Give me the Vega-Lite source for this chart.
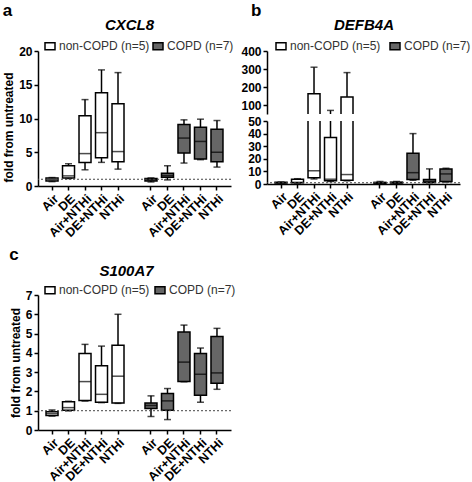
{
 "$schema": "https://vega.github.io/schema/vega-lite/v6.json",
 "padding": {"left": 2, "top": 2, "right": 0, "bottom": 10},
 "background": "white",
 "config": {
  "font": "Liberation Sans",
  "view": {"stroke": null},
  "axis": {"domainColor": "black", "domainWidth": 1.5, "tickColor": "black", "tickWidth": 1.5, "tickSize": 4, "labelFont": "Liberation Sans", "labelFontWeight": "bold", "labelFontSize": 12, "labelColor": "black", "labelPadding": 2, "labelOverlap": false, "titleFont": "Liberation Sans", "titleFontWeight": "bold", "titleFontSize": 12, "titleColor": "black", "grid": false},
  "legend": {"padding": 0},
  "title": {"font": "Liberation Sans", "fontSize": 17, "fontWeight": "bold", "color": "black", "anchor": "start", "frame": "bounds", "offset": -3}
 },
 "datasets": {
  "a": [
   {"key": "n Air", "group": "non-COPD (n=5)", "min": 0.65, "q1": 0.75, "med": 0.95, "q3": 1.2, "max": 1.25},
   {"key": "n DE", "group": "non-COPD (n=5)", "min": 1.1, "q1": 1.2, "med": 1.5, "q3": 3.0, "max": 3.3},
   {"key": "n Air+NTHi", "group": "non-COPD (n=5)", "min": 2.4, "q1": 3.5, "med": 4.8, "q3": 10.4, "max": 12.8},
   {"key": "n DE+NTHi", "group": "non-COPD (n=5)", "min": 3.5, "q1": 4.2, "med": 7.9, "q3": 13.8, "max": 17.2},
   {"key": "n NTHi", "group": "non-COPD (n=5)", "min": 2.5, "q1": 3.6, "med": 5.1, "q3": 12.2, "max": 16.8},
   {"key": "c Air", "group": "COPD (n=7)", "min": 0.6, "q1": 0.75, "med": 0.95, "q3": 1.1, "max": 1.2},
   {"key": "c DE", "group": "COPD (n=7)", "min": 0.9, "q1": 1.3, "med": 1.55, "q3": 1.9, "max": 3.0},
   {"key": "c Air+NTHi", "group": "COPD (n=7)", "min": 3.4, "q1": 4.9, "med": 7.1, "q3": 9.1, "max": 9.8},
   {"key": "c DE+NTHi", "group": "COPD (n=7)", "min": 3.9, "q1": 4.0, "med": 6.6, "q3": 8.7, "max": 9.9},
   {"key": "c NTHi", "group": "COPD (n=7)", "min": 2.8, "q1": 3.6, "med": 5.0, "q3": 8.4, "max": 9.7}
  ],
  "b": [
   {"key": "n Air", "group": "non-COPD (n=5)", "min": 0.5, "q1": 0.7, "med": 1.0, "q3": 1.3, "max": 1.6},
   {"key": "n DE", "group": "non-COPD (n=5)", "min": 0.8, "q1": 1.0, "med": 1.3, "q3": 3.8, "max": 4.2},
   {"key": "n Air+NTHi", "group": "non-COPD (n=5)", "min": 4, "q1": 5, "med": 10.5, "q3": 163, "max": 310},
   {"key": "n DE+NTHi", "group": "non-COPD (n=5)", "min": 2.0, "q1": 2.5, "med": 3.8, "q3": 37, "max": 70},
   {"key": "n NTHi", "group": "non-COPD (n=5)", "min": 2.5, "q1": 3.0, "med": 7.5, "q3": 145, "max": 280},
   {"key": "c Air", "group": "COPD (n=7)", "min": 0.3, "q1": 0.6, "med": 1.0, "q3": 1.3, "max": 2.0},
   {"key": "c DE", "group": "COPD (n=7)", "min": 0.5, "q1": 0.8, "med": 1.0, "q3": 1.5, "max": 2.0},
   {"key": "c Air+NTHi", "group": "COPD (n=7)", "min": 3, "q1": 3.5, "med": 9, "q3": 24.5, "max": 40},
   {"key": "c DE+NTHi", "group": "COPD (n=7)", "min": 1.0, "q1": 1.2, "med": 2.0, "q3": 3.5, "max": 12},
   {"key": "c NTHi", "group": "COPD (n=7)", "min": 1.5, "q1": 2.0, "med": 8.0, "q3": 12, "max": 12.5}
  ],
  "c": [
   {"key": "n Air", "group": "non-COPD (n=5)", "min": 0.72, "q1": 0.75, "med": 0.85, "q3": 0.95, "max": 1.04},
   {"key": "n DE", "group": "non-COPD (n=5)", "min": 0.99, "q1": 1.02, "med": 1.16, "q3": 1.46, "max": 1.49},
   {"key": "n Air+NTHi", "group": "non-COPD (n=5)", "min": 1.5, "q1": 1.53, "med": 2.51, "q3": 3.97, "max": 4.44},
   {"key": "n DE+NTHi", "group": "non-COPD (n=5)", "min": 1.42, "q1": 1.44, "med": 1.85, "q3": 3.33, "max": 4.35},
   {"key": "n NTHi", "group": "non-COPD (n=5)", "min": 1.38, "q1": 1.4, "med": 2.79, "q3": 4.4, "max": 6.0},
   {"key": "c Air", "group": "COPD (n=7)", "min": 0.7, "q1": 1.12, "med": 1.27, "q3": 1.4, "max": 1.77},
   {"key": "c DE", "group": "COPD (n=7)", "min": 0.54, "q1": 1.02, "med": 1.51, "q3": 1.89, "max": 2.15},
   {"key": "c Air+NTHi", "group": "COPD (n=7)", "min": 2.5, "q1": 2.51, "med": 3.52, "q3": 5.08, "max": 5.44},
   {"key": "c DE+NTHi", "group": "COPD (n=7)", "min": 1.44, "q1": 1.8, "med": 2.89, "q3": 3.97, "max": 4.25},
   {"key": "c NTHi", "group": "COPD (n=7)", "min": 2.11, "q1": 2.43, "med": 2.96, "q3": 4.85, "max": 5.27}
  ],
  "ref": [{"ref": 1}]
 },
 "resolve": {"scale": {"x": "independent", "y": "independent", "fill": "independent"}, "legend": {"fill": "independent"}},
 "spacing": 7,
 "vconcat": [
  {
   "spacing": 6,
   "resolve": {"scale": {"x": "independent", "y": "independent", "fill": "independent"}, "legend": {"fill": "independent"}},
   "hconcat": [
    {
     "data": {"name": "a"},
     "width": 193, "height": 135,
     "title": {"text": "a"},
     "resolve": {"axis": {"x": "independent"}},
     "layer": [
      {"mark": {"type": "rule", "color": "black", "strokeWidth": 1.5},
       "encoding": {
        "x": {"field": "key", "type": "nominal", "scale": {"domain": ["n Air","n DE","n Air+NTHi","n DE+NTHi","n NTHi","gap","c Air","c DE","c Air+NTHi","c DE+NTHi","c NTHi"], "paddingOuter": 0.35, "paddingInner": 0}, "axis": {"values": ["n Air","n DE","n Air+NTHi","n DE+NTHi","n NTHi","c Air","c DE","c Air+NTHi","c DE+NTHi","c NTHi"], "labelExpr": "substring(datum.value, 2)", "labelAngle": -45, "labelFontSize": 12.5, "title": null}},
        "y": {"field": "min", "type": "quantitative", "title": "fold from untreated", "scale": {"domain": [0, 20], "nice": false}, "axis": {"values": [0, 5, 10, 15, 20], "titlePadding": 3, "titleY": 76}},
        "y2": {"field": "max"}}},
      {"mark": {"type": "bar", "size": 12, "stroke": "black", "strokeWidth": 1.5},
       "encoding": {
        "x": {"field": "key", "type": "nominal", "axis": {"orient": "top", "title": "CXCL8", "labels": false, "ticks": false, "domain": false, "titleFontSize": 15, "titleFontStyle": "italic", "titlePadding": 19, "titleX": 91}},
        "y": {"field": "q1", "type": "quantitative", "title": "fold from untreated", "scale": {"domain": [0, 20], "nice": false}, "axis": {"values": [0, 5, 10, 15, 20], "titlePadding": 3, "titleY": 76}},
        "y2": {"field": "q3"},
        "fill": {"field": "group", "type": "nominal", "scale": {"domain": ["non-COPD (n=5)", "COPD (n=7)"], "range": ["#ffffff", "#666666"]},
         "legend": {"title": null, "orient": "none", "legendX": 6, "legendY": -11, "direction": "horizontal", "symbolType": "M-1,-0.7H1V0.7H-1Z", "symbolSize": 100, "symbolStrokeColor": "black", "symbolStrokeWidth": 1.5, "labelFontSize": 12, "labelColor": "#333333", "labelFont": "Liberation Sans", "columnPadding": 0, "labelOffset": 3}}}},
      {"mark": {"type": "tick", "size": 12, "thickness": 1.5, "color": "black"},
       "encoding": {"x": {"field": "key", "type": "nominal", "axis": null}, "y": {"field": "med", "type": "quantitative", "title": "fold from untreated", "scale": {"domain": [0, 20], "nice": false}, "axis": {"values": [0, 5, 10, 15, 20], "titlePadding": 3, "titleY": 76}}}},
      {"mark": {"type": "tick", "size": 7, "thickness": 1.5, "color": "black"},
       "encoding": {"x": {"field": "key", "type": "nominal", "axis": null}, "y": {"field": "max", "type": "quantitative", "title": "fold from untreated", "scale": {"domain": [0, 20], "nice": false}, "axis": {"values": [0, 5, 10, 15, 20], "titlePadding": 3, "titleY": 76}}}},
      {"mark": {"type": "tick", "size": 7, "thickness": 1.5, "color": "black"},
       "encoding": {"x": {"field": "key", "type": "nominal", "axis": null}, "y": {"field": "min", "type": "quantitative", "title": "fold from untreated", "scale": {"domain": [0, 20], "nice": false}, "axis": {"values": [0, 5, 10, 15, 20], "titlePadding": 3, "titleY": 76}}}},
      {"data": {"name": "ref"}, "mark": {"type": "rule", "color": "#444444", "strokeWidth": 1, "strokeDash": [2, 2]},
       "encoding": {"y": {"field": "ref", "type": "quantitative", "title": "fold from untreated", "scale": {"domain": [0, 20], "nice": false}, "axis": {"values": [0, 5, 10, 15, 20], "titlePadding": 3, "titleY": 76}}}}
     ]
    },
    {
     "title": {"text": "b", "dx": 10},
     "spacing": 1,
     "resolve": {"scale": {"x": "independent", "y": "independent", "fill": "independent"}, "legend": {"fill": "independent"}},
     "vconcat": [
      {
       "data": {"name": "b"},
       "width": 193, "height": 63,
       "resolve": {"axis": {"x": "independent"}},
       "layer": [
        {"mark": {"type": "rule", "color": "black", "strokeWidth": 1.5, "clip": true},
         "encoding": {
          "x": {"field": "key", "type": "nominal", "scale": {"domain": ["n Air","n DE","n Air+NTHi","n DE+NTHi","n NTHi","gap","c Air","c DE","c Air+NTHi","c DE+NTHi","c NTHi"], "paddingOuter": 0.35, "paddingInner": 0}, "axis": null},
          "y": {"field": "min", "type": "quantitative", "title": null, "scale": {"domain": [50, 400], "nice": false}, "axis": {"values": [100, 200, 300, 400]}},
          "y2": {"field": "max"}}},
        {"mark": {"type": "bar", "size": 12, "stroke": "black", "strokeWidth": 1.5, "clip": true},
         "encoding": {
          "x": {"field": "key", "type": "nominal", "axis": {"orient": "top", "title": "DEFB4A", "labels": false, "ticks": false, "domain": false, "titleFontSize": 15, "titleFontStyle": "italic", "titlePadding": 19}},
          "y": {"field": "q1", "type": "quantitative", "title": null, "scale": {"domain": [50, 400], "nice": false}, "axis": {"values": [100, 200, 300, 400]}},
          "y2": {"field": "q3"},
          "fill": {"field": "group", "type": "nominal", "scale": {"domain": ["non-COPD (n=5)", "COPD (n=7)"], "range": ["#ffffff", "#666666"]},
           "legend": {"title": null, "orient": "none", "legendX": 8, "legendY": -11, "direction": "horizontal", "symbolType": "M-1,-0.7H1V0.7H-1Z", "symbolSize": 100, "symbolStrokeColor": "black", "symbolStrokeWidth": 1.5, "labelFontSize": 12, "labelColor": "#333333", "labelFont": "Liberation Sans", "columnPadding": 6, "labelOffset": 3}}}},
        {"mark": {"type": "tick", "size": 7, "thickness": 1.5, "color": "black", "clip": true},
         "encoding": {"x": {"field": "key", "type": "nominal", "axis": null}, "y": {"field": "max", "type": "quantitative", "title": null, "scale": {"domain": [50, 400], "nice": false}, "axis": {"values": [100, 200, 300, 400]}}}}
       ]
      },
      {
       "data": {"name": "b"},
       "width": 193, "height": 63,
       "layer": [
        {"mark": {"type": "rule", "color": "black", "strokeWidth": 1.5, "clip": true},
         "encoding": {
          "x": {"field": "key", "type": "nominal", "scale": {"domain": ["n Air","n DE","n Air+NTHi","n DE+NTHi","n NTHi","gap","c Air","c DE","c Air+NTHi","c DE+NTHi","c NTHi"], "paddingOuter": 0.35, "paddingInner": 0}, "axis": {"values": ["n Air","n DE","n Air+NTHi","n DE+NTHi","n NTHi","c Air","c DE","c Air+NTHi","c DE+NTHi","c NTHi"], "labelExpr": "substring(datum.value, 2)", "labelAngle": -45, "labelFontSize": 12.5, "title": null}},
          "y": {"field": "min", "type": "quantitative", "title": null, "scale": {"domain": [0, 50], "nice": false}, "axis": {"values": [0, 10, 20, 30, 40, 50]}},
          "y2": {"field": "max"}}},
        {"mark": {"type": "bar", "size": 12, "stroke": "black", "strokeWidth": 1.5, "clip": true},
         "encoding": {
          "x": {"field": "key", "type": "nominal"},
          "y": {"field": "q1", "type": "quantitative", "title": null, "scale": {"domain": [0, 50], "nice": false}, "axis": {"values": [0, 10, 20, 30, 40, 50]}},
          "y2": {"field": "q3"},
          "fill": {"field": "group", "type": "nominal", "scale": {"domain": ["non-COPD (n=5)", "COPD (n=7)"], "range": ["#ffffff", "#666666"]}, "legend": null}}},
        {"mark": {"type": "tick", "size": 12, "thickness": 1.5, "color": "black", "clip": true},
         "encoding": {"x": {"field": "key", "type": "nominal"}, "y": {"field": "med", "type": "quantitative", "title": null, "scale": {"domain": [0, 50], "nice": false}, "axis": {"values": [0, 10, 20, 30, 40, 50]}}}},
        {"mark": {"type": "tick", "size": 7, "thickness": 1.5, "color": "black", "clip": true},
         "encoding": {"x": {"field": "key", "type": "nominal"}, "y": {"field": "max", "type": "quantitative", "title": null, "scale": {"domain": [0, 50], "nice": false}, "axis": {"values": [0, 10, 20, 30, 40, 50]}}}},
        {"mark": {"type": "tick", "size": 7, "thickness": 1.5, "color": "black", "clip": true},
         "encoding": {"x": {"field": "key", "type": "nominal"}, "y": {"field": "min", "type": "quantitative", "title": null, "scale": {"domain": [0, 50], "nice": false}, "axis": {"values": [0, 10, 20, 30, 40, 50]}}}},
        {"data": {"name": "ref"}, "mark": {"type": "rule", "color": "#444444", "strokeWidth": 1, "strokeDash": [2, 2]},
         "encoding": {"y": {"field": "ref", "type": "quantitative", "title": null, "scale": {"domain": [0, 50], "nice": false}, "axis": {"values": [0, 10, 20, 30, 40, 50]}}}}
       ]
      }
     ]
    }
   ]
  },
  {
   "data": {"name": "c"},
   "width": 193, "height": 135,
   "title": {"text": "c", "offset": -1},
   "resolve": {"axis": {"x": "independent"}},
   "layer": [
    {"mark": {"type": "rule", "color": "black", "strokeWidth": 1.5},
     "encoding": {
      "x": {"field": "key", "type": "nominal", "scale": {"domain": ["n Air","n DE","n Air+NTHi","n DE+NTHi","n NTHi","gap","c Air","c DE","c Air+NTHi","c DE+NTHi","c NTHi"], "paddingOuter": 0.35, "paddingInner": 0}, "axis": {"values": ["n Air","n DE","n Air+NTHi","n DE+NTHi","n NTHi","c Air","c DE","c Air+NTHi","c DE+NTHi","c NTHi"], "labelExpr": "substring(datum.value, 2)", "labelAngle": -45, "labelFontSize": 12.5, "title": null}},
      "y": {"field": "min", "type": "quantitative", "title": "fold from untreated", "scale": {"domain": [0, 7], "nice": false}, "axis": {"values": [0, 1, 2, 3, 4, 5, 6, 7], "titlePadding": 3}},
      "y2": {"field": "max"}}},
    {"mark": {"type": "bar", "size": 12, "stroke": "black", "strokeWidth": 1.5},
     "encoding": {
      "x": {"field": "key", "type": "nominal", "axis": {"orient": "top", "title": "S100A7", "labels": false, "ticks": false, "domain": false, "titleFontSize": 15, "titleFontStyle": "italic", "titlePadding": 17, "titleX": 88}},
      "y": {"field": "q1", "type": "quantitative", "title": "fold from untreated", "scale": {"domain": [0, 7], "nice": false}, "axis": {"values": [0, 1, 2, 3, 4, 5, 6, 7], "titlePadding": 3}},
      "y2": {"field": "q3"},
      "fill": {"field": "group", "type": "nominal", "scale": {"domain": ["non-COPD (n=5)", "COPD (n=7)"], "range": ["#ffffff", "#666666"]},
       "legend": {"title": null, "orient": "none", "legendX": 6, "legendY": -11, "direction": "horizontal", "symbolType": "M-1,-0.7H1V0.7H-1Z", "symbolSize": 100, "symbolStrokeColor": "black", "symbolStrokeWidth": 1.5, "labelFontSize": 12, "labelColor": "#333333", "labelFont": "Liberation Sans", "columnPadding": 2, "labelOffset": 3}}}},
    {"mark": {"type": "tick", "size": 12, "thickness": 1.5, "color": "black"},
     "encoding": {"x": {"field": "key", "type": "nominal", "axis": null}, "y": {"field": "med", "type": "quantitative", "title": "fold from untreated", "scale": {"domain": [0, 7], "nice": false}, "axis": {"values": [0, 1, 2, 3, 4, 5, 6, 7], "titlePadding": 3}}}},
    {"mark": {"type": "tick", "size": 7, "thickness": 1.5, "color": "black"},
     "encoding": {"x": {"field": "key", "type": "nominal", "axis": null}, "y": {"field": "max", "type": "quantitative", "title": "fold from untreated", "scale": {"domain": [0, 7], "nice": false}, "axis": {"values": [0, 1, 2, 3, 4, 5, 6, 7], "titlePadding": 3}}}},
    {"mark": {"type": "tick", "size": 7, "thickness": 1.5, "color": "black"},
     "encoding": {"x": {"field": "key", "type": "nominal", "axis": null}, "y": {"field": "min", "type": "quantitative", "title": "fold from untreated", "scale": {"domain": [0, 7], "nice": false}, "axis": {"values": [0, 1, 2, 3, 4, 5, 6, 7], "titlePadding": 3}}}},
    {"data": {"name": "ref"}, "mark": {"type": "rule", "color": "#444444", "strokeWidth": 1, "strokeDash": [2, 2]},
     "encoding": {"y": {"field": "ref", "type": "quantitative", "title": "fold from untreated", "scale": {"domain": [0, 7], "nice": false}, "axis": {"values": [0, 1, 2, 3, 4, 5, 6, 7], "titlePadding": 3}}}}
   ]
  }
 ]
}
